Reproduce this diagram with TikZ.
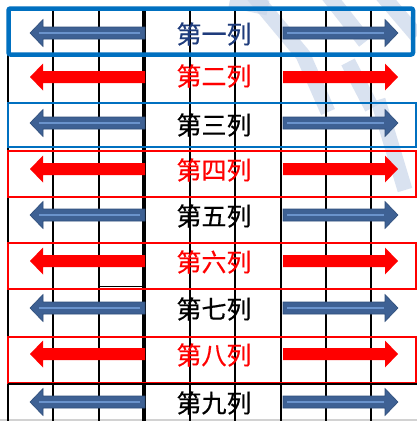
\documentclass[tikz,border=0pt]{standalone}
\usepackage{fontspec}
\newfontfamily\cjk[FakeBold=0.5]{Noto Sans CJK SC}
\definecolor{boxblue}{HTML}{0070C0}
\definecolor{arrblue}{HTML}{3E6194}
\definecolor{arredge}{HTML}{2F4E7A}
\definecolor{stripe}{HTML}{6A93CC}
\definecolor{navy}{HTML}{1F3C7C}
\definecolor{wmark}{HTML}{C9D6EA}
\definecolor{pred}{HTML}{FF0000}
\begin{document}
\begin{tikzpicture}[x=1pt,y=-1pt,
  gridline/.style={black,line width=2.2pt},
  thickgrid/.style={black,line width=3.8pt},
  wm/.style={wmark,line width=15pt,opacity=0.7},
  redbox/.style={draw=pred,line width=2pt},
  bluebox/.style={draw=boxblue,line width=1.6pt},
  label/.style={font=\cjk\fontsize{25}{30}\selectfont,inner sep=0pt,anchor=center},
  bluearr/.style={fill=arrblue,draw=arredge,line width=0.6pt},
  redarr/.style={fill=pred},
  stripeline/.style={stripe,line width=2pt}]
\path[use as bounding box] (0,0) rectangle (417,421);
\fill[white] (0,0) rectangle (417,421);
% watermark
\draw[wm] (253,-5) -- (303,55) -- (328,112);
\draw[wm] (328,-5) -- (365,42);
\draw[wm] (382,-5) -- (417,36);
\draw[wm] (348,62) -- (372,108);
\draw[wm] (378,100) -- (405,190);
\draw[wm] (230,0) -- (268,8);
% bottom grey edge
\fill[gray!35] (0,419) rectangle (417,421);
% vertical grid lines
\foreach \gx in {8,53,99,190,235,281,326,371}
  \draw[gridline] (\gx,8) -- (\gx,421);
\draw[thickgrid] (144,8) -- (144,421);
% row boxes
\draw[redbox] (8,151) rectangle (416,197);
\draw[redbox] (8,243) rectangle (416,289);
\draw[redbox] (8,337) rectangle (416,383);
\draw[bluebox] (8,103) rectangle (416,147);
\draw[black,line width=1.5pt] (8,384) -- (417,384);
\draw[black,line width=1.2pt] (99,286.5) -- (144,286.5);
\draw[draw=boxblue,line width=4.5pt,rounded corners=2pt] (8.5,8.5) rectangle (413,54.5);
% arrows
\foreach \yy/\kind in {33/bluearr,123/bluearr,215/bluearr,308/bluearr,402/bluearr,77/redarr,169/redarr,261/redarr,354/redarr}{
  \path[\kind] (145,\yy-6) -- (43,\yy-6) -- (43,\yy-13.5) -- (30,\yy) -- (43,\yy+13.5) -- (43,\yy+6) -- (145,\yy+6) -- cycle;
  \path[\kind] (283,\yy-6) -- (385,\yy-6) -- (385,\yy-13.5) -- (398,\yy) -- (385,\yy+13.5) -- (385,\yy+6) -- (283,\yy+6) -- cycle;
}
\foreach \yy in {33,123,215,308,402}{
  \draw[stripeline] (39,\yy) -- (140,\yy);
  \draw[stripeline] (287,\yy) -- (384,\yy);
}
% labels
\node[label,text=navy] (r1) at (214,34) {第一列};
\node[label,text=pred] (r2) at (214,76) {第二列};
\node[label,text=black] (r3) at (214,125) {第三列};
\node[label,text=pred] (r4) at (214,170) {第四列};
\node[label,text=black] (r5) at (214,216) {第五列};
\node[label,text=pred] (r6) at (214,262) {第六列};
\node[label,text=black] (r7) at (214,309) {第七列};
\node[label,text=pred] (r8) at (214,355) {第八列};
\node[label,text=black] (r9) at (214,403) {第九列};
\end{tikzpicture}
\end{document}
